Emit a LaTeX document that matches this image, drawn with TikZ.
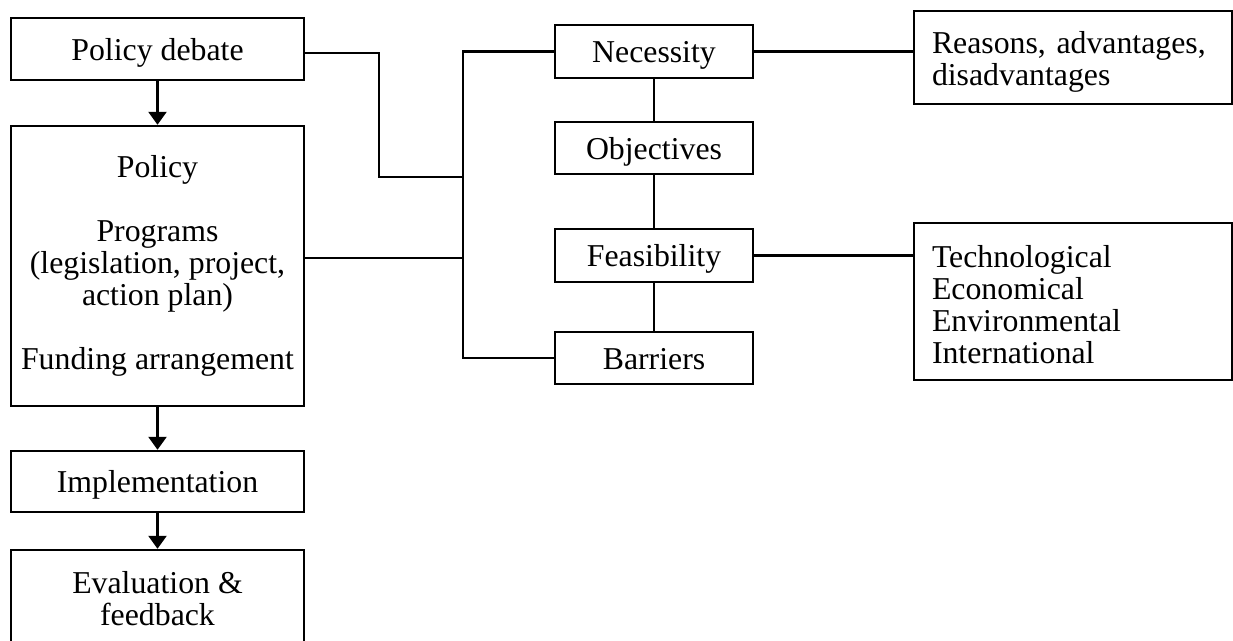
\documentclass[tikz,border=0pt]{standalone}
\usepackage{fontspec}
\setmainfont{Liberation Serif}
\usetikzlibrary{arrows.meta}
\newcommand{\boxfont}{\fontsize{15.9}{16}\selectfont}
\tikzset{
  box/.style={draw, line width=1.2pt, inner sep=0pt, align=center, font=\boxfont},
  single/.style={text height=11.5pt, text depth=0pt},
  listbox/.style={draw, line width=1.2pt, inner xsep=9pt, inner ysep=0pt, align=left, text width=141pt, font=\boxfont},
  conn/.style={line width=1.2pt},
  arr/.style={line width=1.2pt, -{Triangle[length=6.5pt,width=9pt]}}
}
\begin{document}
\begin{tikzpicture}[x=0.5pt,y=-0.5pt]
\clip (0,0) rectangle (1233,641);
\fill[white] (0,0) rectangle (1233,641);
% left column
\node[box, single, minimum width=146.5pt, minimum height=31pt] (pd) at (157.5,49) {Policy debate};
\node[box, minimum width=146.5pt, minimum height=140pt] (pol) at (157.5,266)
  {Policy\\[16pt]Programs\\(legislation, project,\\action plan)\\[16pt]Funding arrangement};
\node[box, single, minimum width=146.5pt, minimum height=30.5pt] (imp) at (157.5,481.5) {Implementation};
\node[box, minimum width=146.5pt, minimum height=49pt] (ev) at (157.5,599) {Evaluation \&\\feedback};
% middle column
\node[box, single, minimum width=99pt, minimum height=26.5pt] (nec) at (654,51.5) {Necessity};
\node[box, single, minimum width=99pt, minimum height=26pt] (obj) at (654,148) {Objectives};
\node[box, single, minimum width=99pt, minimum height=26.5pt] (fea) at (654,255.5) {Feasibility};
\node[box, single, minimum width=99pt, minimum height=26pt] (bar) at (654,358) {Barriers};
% right column
\node[listbox, text height=15.8pt, minimum height=46.5pt] (rea) at (1073,57.5) {Reasons, advantages,\\disadvantages};
\node[listbox, text height=13.8pt, minimum height=78.5pt] (tec) at (1073,301.5) {Technological\\Economical\\Environmental\\International};
% coordinates
\coordinate (bend) at (379,177);
\coordinate (tj) at (464,177);
\coordinate (tp) at (464,258);
% arrows down the left column
\draw[arr] (pd) -- (pol);
\draw[arr] (pol) -- (imp);
\draw[arr] (imp) -- (ev);
% connectors to the trunk
\draw[conn] ([yshift=-2pt]pd.east) -| (bend) -- (tj);
\draw[conn] ([yshift=4pt]pol.east) -- (tp);
\draw[conn] (nec.west) -- ++(-91,0) |- (bar.west);
% middle chain
\draw[conn] (nec) -- (obj);
\draw[conn] (obj) -- (fea);
\draw[conn] (fea) -- (bar);
% to the right boxes
\draw[conn] (nec.east) -- (nec.east -| rea.west);
\draw[conn] (fea.east) -- (fea.east -| tec.west);
\end{tikzpicture}
\end{document}
